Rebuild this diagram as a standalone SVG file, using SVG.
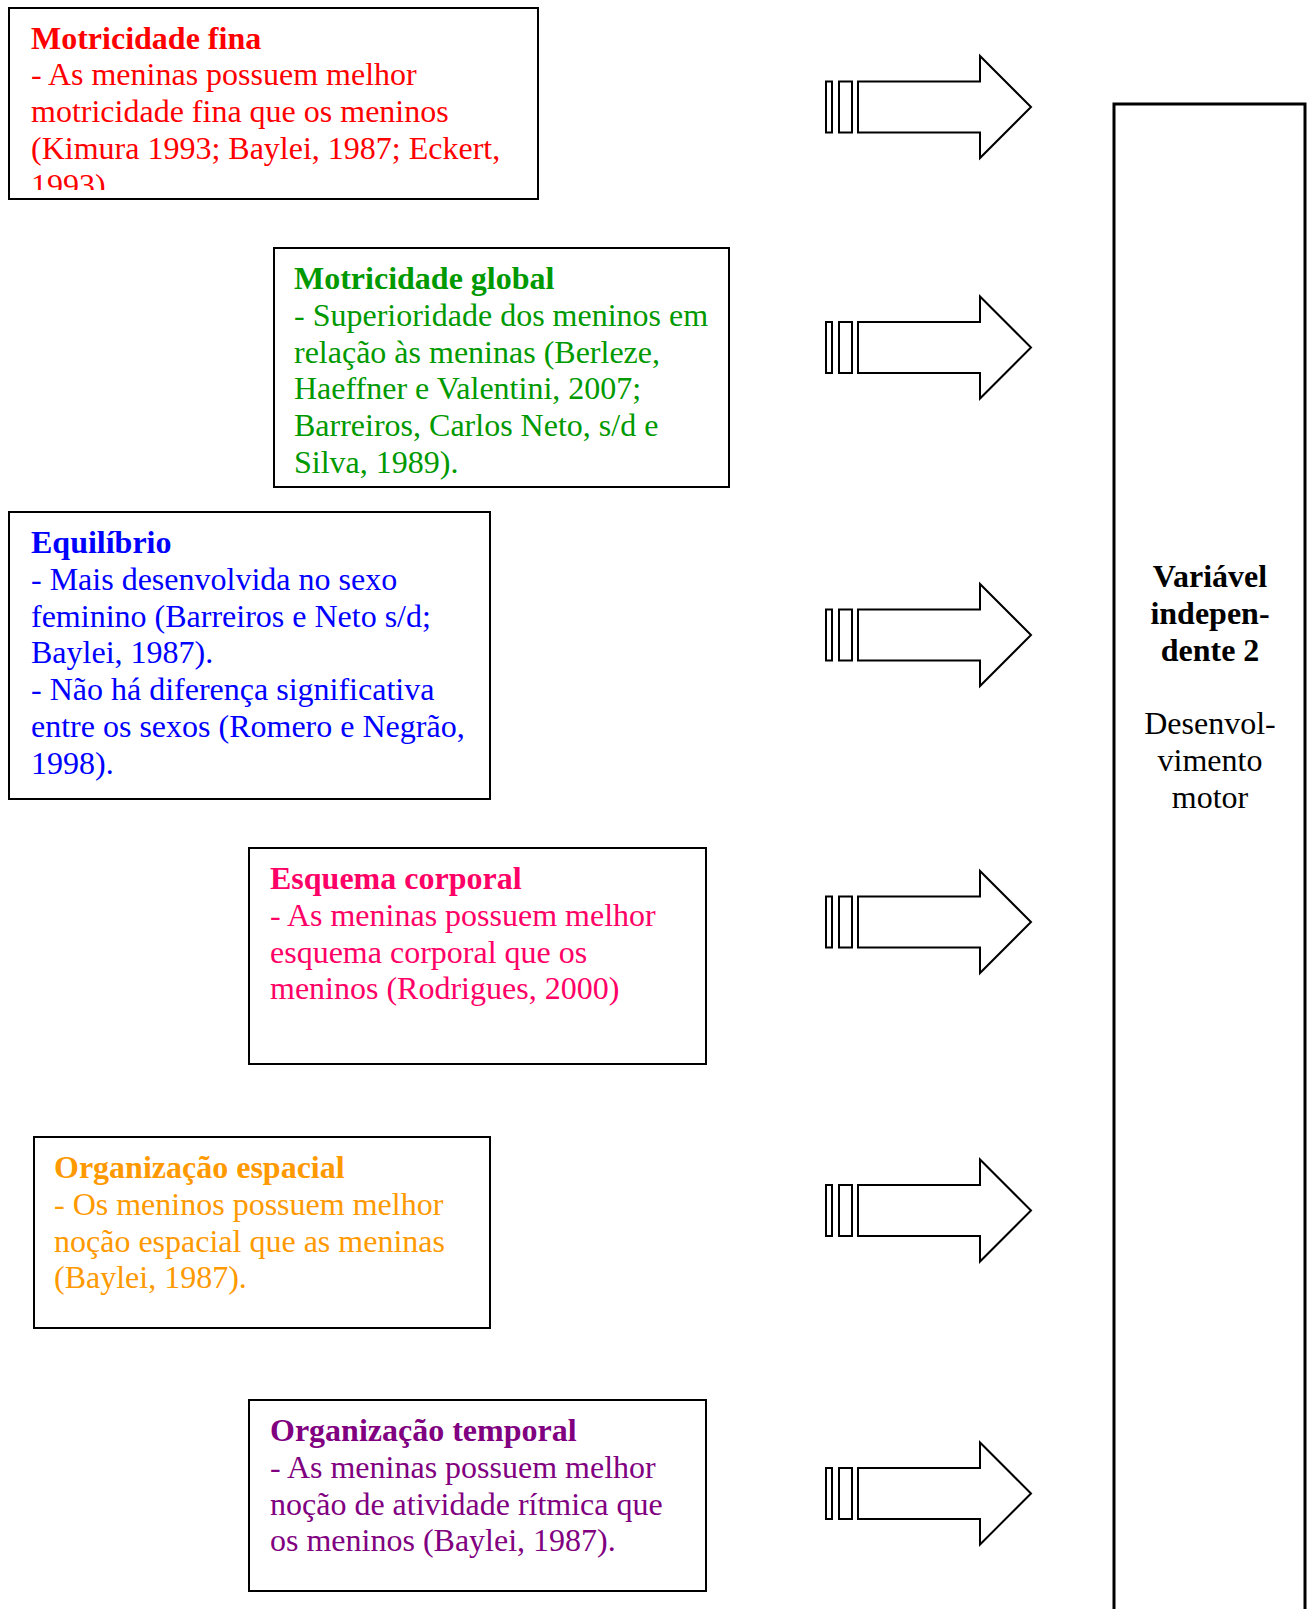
<svg xmlns="http://www.w3.org/2000/svg" width="1310" height="1609" viewBox="0 0 1310 1609">
<style>
.box{fill:#fff;stroke:#000;stroke-width:2}
.tall{fill:#fff;stroke:#000;stroke-width:3}
.arr{fill:#fff;stroke:#000;stroke-width:2;stroke-linejoin:miter}
text{font-family:"Liberation Serif","Times New Roman",serif;font-size:32px}
.b{font-weight:bold}
.red{fill:#FF0000}.green{fill:#009900}.blue{fill:#0000FF}.pink{fill:#FF0066}.orange{fill:#FF9900}.purple{fill:#800080}.blk{fill:#000}
</style>
<defs>
<g id="arrow">
<rect class="arr" x="826" y="-25.5" width="6" height="51"/>
<rect class="arr" x="839" y="-25.5" width="13" height="51"/>
<path class="arr" d="M858,-25.5 H980 V-51 L1031,0 L980,51 V25.5 H858 Z"/>
</g>
<clipPath id="clip1"><rect x="10" y="9" width="527" height="181"/></clipPath>
</defs>
<g id="connectors">
<use href="#arrow" y="107"/>
<use href="#arrow" y="347.5"/>
<use href="#arrow" y="635"/>
<use href="#arrow" y="922"/>
<use href="#arrow" y="1210.5"/>
<use href="#arrow" y="1493.5"/>
</g>
<g id="motricidade-fina">
<rect class="box" x="9" y="8" width="529" height="191"/>
<g clip-path="url(#clip1)" class="red">
<text x="31" y="48.5" class="b">Motricidade fina</text>
<text x="31" y="85.3">- As meninas possuem melhor</text>
<text x="31" y="122.1">motricidade fina que os meninos</text>
<text x="31" y="158.9">(Kimura 1993; Baylei, 1987; Eckert,</text>
<text x="31" y="195.7">1993)</text>
</g>
</g>
<g id="motricidade-global" class="green">
<rect class="box" x="274" y="248" width="455" height="239"/>
<text x="294" y="289" class="b">Motricidade global</text>
<text x="294" y="325.8">- Superioridade dos meninos em</text>
<text x="294" y="362.6">relação às meninas (Berleze,</text>
<text x="294" y="399.4">Haeffner e Valentini, 2007;</text>
<text x="294" y="436.2">Barreiros, Carlos Neto, s/d e</text>
<text x="294" y="473">Silva, 1989).</text>
</g>
<g id="equilibrio" class="blue">
<rect class="box" x="9" y="512" width="481" height="287"/>
<text x="31" y="553" class="b">Equilíbrio</text>
<text x="31" y="589.8">- Mais desenvolvida no sexo</text>
<text x="31" y="626.6">feminino (Barreiros e Neto s/d;</text>
<text x="31" y="663.4">Baylei, 1987).</text>
<text x="31" y="700.2">- Não há diferença significativa</text>
<text x="31" y="737">entre os sexos (Romero e Negrão,</text>
<text x="31" y="773.8">1998).</text>
</g>
<g id="esquema-corporal" class="pink">
<rect class="box" x="249" y="848" width="457" height="216"/>
<text x="270" y="889" class="b">Esquema corporal</text>
<text x="270" y="925.8">- As meninas possuem melhor</text>
<text x="270" y="962.6">esquema corporal que os</text>
<text x="270" y="999.4">meninos (Rodrigues, 2000)</text>
</g>
<g id="organizacao-espacial" class="orange">
<rect class="box" x="34" y="1137" width="456" height="191"/>
<text x="54" y="1178" class="b">Organização espacial</text>
<text x="54" y="1214.8">- Os meninos possuem melhor</text>
<text x="54" y="1251.6">noção espacial que as meninas</text>
<text x="54" y="1288.4">(Baylei, 1987).</text>
</g>
<g id="organizacao-temporal" class="purple">
<rect class="box" x="249" y="1400" width="457" height="191"/>
<text x="270" y="1441" class="b">Organização temporal</text>
<text x="270" y="1477.8">- As meninas possuem melhor</text>
<text x="270" y="1514.6">noção de atividade rítmica que</text>
<text x="270" y="1551.4">os meninos (Baylei, 1987).</text>
</g>
<g id="variavel-independente" class="blk" text-anchor="middle">
<rect class="tall" x="1114" y="104" width="191" height="1520"/>
<text x="1210" y="587" class="b">Variável</text>
<text x="1210" y="623.8" class="b">indepen-</text>
<text x="1210" y="660.6" class="b">dente 2</text>
<text x="1210" y="734.2">Desenvol-</text>
<text x="1210" y="771">vimento</text>
<text x="1210" y="807.8">motor</text>
</g>
</svg>
